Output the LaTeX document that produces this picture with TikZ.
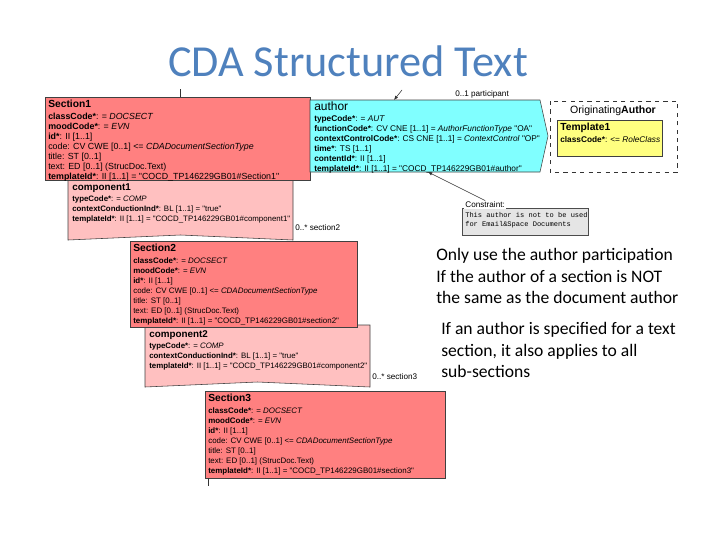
\documentclass[tikz,border=0pt]{standalone}
\usepackage{fontspec}
\setmainfont{Carlito}
\newfontfamily\diagfont{Liberation Sans}
\newfontfamily\notefont{Liberation Mono}
\usetikzlibrary{arrows.meta}
\definecolor{titleblue}{RGB}{79,129,189}
\definecolor{actred}{RGB}{255,128,128}
\definecolor{relpink}{RGB}{255,192,192}
\definecolor{partcyan}{RGB}{128,255,255}
\definecolor{roleyellow}{RGB}{255,255,128}
\newcommand{\hdr}[1]{{\fontsize{7.3}{8.5}\selectfont\bfseries #1}}
\newcommand{\sectattrs}[2]{\hdr{Section#1}\\[1pt]
\textbf{classCode*}: = \textit{DOCSECT}\\
\textbf{moodCode*}: = \textit{EVN}\\
\textbf{id*}: II [1..1]\\
code: CV CWE [0..1] <= \textit{CDADocumentSectionType}\\
title: ST [0..1]\\
text: ED [0..1] (StrucDoc.Text)\\
\textbf{templateId*}: II [1..1] = "COCD\_TP146229GB01\##2"}
\newcommand{\compattrs}[1]{{\fontsize{7}{8.5}\selectfont\bfseries component#1}\\[1pt]
\textbf{typeCode*}: = \textit{COMP}\\
\textbf{contextConductionInd*}: BL [1..1] = "true"\\
\textbf{templateId*}: II [1..1] = "COCD\_TP146229GB01\#component#1"}

\begin{document}
\begin{tikzpicture}[x=0.025cm, y=-0.025cm,
  box/.style={draw=black!75, line width=0.4pt},
  act/.style={box, fill=actred},
  rel/.style={box, fill=relpink},
  part/.style={box, fill=partcyan},
  role/.style={box, fill=roleyellow},
  attrs/.style={anchor=north west, inner sep=0pt, align=left, font=\diagfont\fontsize{#1}{7.1}\selectfont},
  attrs/.default=6.3,
  card/.style={anchor=west, inner sep=0pt, font=\diagfont\fontsize{5.8}{6.5}\selectfont},
  bullet/.style={anchor=north west, inner sep=0pt, align=left, font=\fontsize{12.5}{15.3}\selectfont},
  conn/.style={black!80, line width=0.4pt},
  tip/.style={conn, -{Latex[length=3pt, width=2.5pt]}}]
\fill[white] (0,0) rectangle (720,540);
\useasboundingbox (0,0) rectangle (720,540);

\node[font=\fontsize{31.5}{36}\selectfont, text=titleblue] (title) at (348,61) {CDA Structured Text};

% section chain
\draw[rel] (68,178) -- (293,178) -- (293,240) -- (180.5,235) -- (68,240) -- cycle;
\node[attrs=5.6] (comp1) at (72,183) {\compattrs{1}};
\draw[act] (45,97) rectangle (310,180);
\node[attrs=6.3] (sec1) at (48,100) {\sectattrs{1}{Section1}};
\draw[rel] (145,325) -- (370,325) -- (370,387) -- (257.5,382) -- (145,387) -- cycle;
\node[attrs=5.6] (comp2) at (149,330) {\compattrs{2}};
\draw[act] (130,241) rectangle (357,327);
\node[attrs=5.65] (sec2) at (133,244) {\sectattrs{2}{section2}};
\draw[act] (205,391) rectangle (445,478);
\node[attrs=5.65] (sec3) at (208,394) {\sectattrs{3}{section3}};
\node[card] (card2) at (295,228) {0..* section2};
\node[card] (card3) at (372,377) {0..* section3};

% author participation
\draw[part] (310,100) -- (540,100) -- (548,136) -- (540,172) -- (310,172) -- cycle;
\node[attrs=5.9] (auth) at (314,102) {{\fontsize{8.5}{9.5}\selectfont author}\\[0.5pt]
\textbf{typeCode*}: = \textit{AUT}\\
\textbf{functionCode*}: CV CNE [1..1] = \textit{AuthorFunctionType} "OA"\\
\textbf{contextControlCode*}: CS CNE [1..1] = \textit{ContextControl} "OP"\\
\textbf{time*}: TS [1..1]\\
\textbf{contentId*}: II [1..1]\\
\textbf{templateId*}: II [1..1] = "COCD\_TP146229GB01\#author"};
\draw[conn, dashed] (550,101) rectangle (677,172);
\node[font=\diagfont\fontsize{7.5}{8.5}\selectfont, inner sep=0pt] (origauth) at (613,111) {Originating\textbf{Author}};
\draw[role] (557,120) rectangle (662,156);
\node[attrs=5.9] (tmpl1) at (560,123) {\hdr{Template1}\\[1pt]
\textbf{classCode*}: <= \textit{RoleClass}};
\node[card] (cardp) at (455,94) {0..1 participant};
\coordinate (partfrom) at (402,90);
\coordinate (partto) at (394,100);
\draw[tip] (partfrom) -- (partto);

% constraint note
\draw[fill=black!10, draw=black!70, line width=0.4pt] (462,208) rectangle (588,235);
\node[card, fill=white, inner sep=0.8pt] (conlabel) at (464,205) {Constraint:};
\node[anchor=north west, inner sep=0pt, align=left, font=\notefont\fontsize{5}{6.6}\selectfont] (contxt) at (465,212) {This author is not to be used\\for Email\&Space Documents};
\coordinate (conto) at (428,172);
\draw[tip] (conlabel.north) -- (conto);

% stubs of the cut-off lines
\coordinate (sec1up) at (180,89);
\coordinate (sec1top) at (180,97);
\draw[conn] (sec1up) -- (sec1top);
\coordinate (sec3bot) at (208,478);
\coordinate (sec3down) at (208,486);
\draw[conn] (sec3bot) -- (sec3down);

% notes
\node[bullet] (note1) at (436,248) {Only use the author participation\\If the author of a section is NOT\\the same as the document author};
\node[bullet] (note2) at (441,322) {If an author is specified for a text\\section, it also applies to all\\sub-sections};
\end{tikzpicture}
\end{document}
